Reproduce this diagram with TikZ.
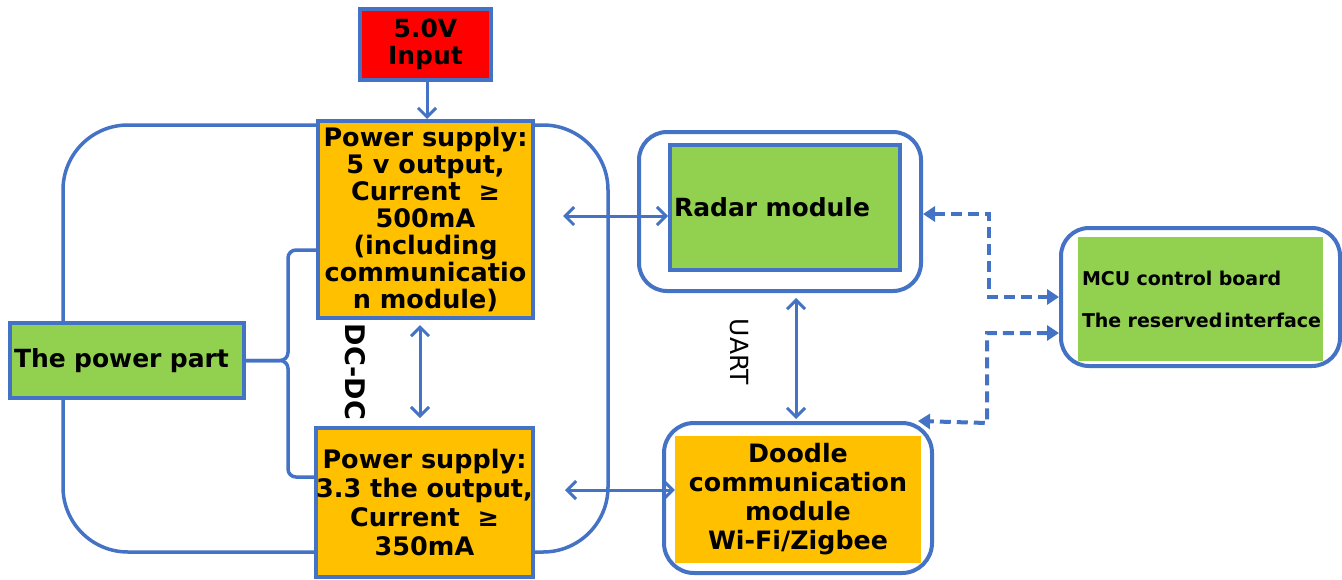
\documentclass[tikz,border=0pt]{standalone}
\usepackage{fontspec}
\setmainfont{DejaVu Sans}
\usetikzlibrary{arrows.meta}
\definecolor{bl}{HTML}{4472C4}
\definecolor{org}{HTML}{FFC000}
\definecolor{grn}{HTML}{92D050}
\definecolor{rd}{HTML}{FF0000}
\begin{document}
\begin{tikzpicture}[x=1pt,y=-1pt,
  box/.style={draw=bl, line width=4pt, inner sep=0pt, align=center},
  frame/.style={draw=bl, line width=4pt, inner sep=0pt},
  barb/.tip={Straight Barb[length=9pt,width=18pt,line width=3pt]},
  tri/.tip={Triangle[length=12pt,width=15pt]},
  arr/.style={draw=bl, line width=3pt, -barb},
  darr/.style={draw=bl, line width=3pt, barb-barb},
  dsh/.style={draw=bl, line width=4pt, dash pattern=on 11pt off 6pt, tri-tri},
  brace/.style={draw=bl, line width=3.5pt, rounded corners=8pt}]
\useasboundingbox (0,0) rectangle (1342,579);

% power enclosure
\node[draw=bl, line width=3.5pt, rounded corners=65pt, minimum width=545pt, minimum height=427pt, inner sep=0pt] (pwr) at (335.5,338.5) {};

% boxes
\node[box, fill=rd, minimum width=131pt, minimum height=71pt, font=\bfseries\fontsize{25}{27}\selectfont] (in) at (425.5,44.5) {5.0V\\Input};
\node[box, fill=org, minimum width=215pt, minimum height=197pt, font=\bfseries\fontsize{25.5}{27}\selectfont] (ps5) at (425.5,219.5)
  {Power supply:\\5 v output,\\Current \ ≥\\500mA\\(including\\communicatio\\n module)};
\node[box, fill=org, minimum width=217pt, minimum height=149pt, font=\bfseries\fontsize{25.5}{29}\selectfont] (ps33) at (424.5,502.5)
  {Power supply:\\3.3 the output,\\Current \ ≥\\350mA};
\node[box, fill=grn, minimum width=234pt, minimum height=75pt, inner xsep=4pt, text width=226pt, align=left, font=\bfseries\fontsize{25}{27}\selectfont] (pp) at (127,360.5) {The power part};

\node[frame, rounded corners=28pt, minimum width=282pt, minimum height=159pt] (radarO) at (780,211.5) {};
\node[box, fill=grn, minimum width=230pt, minimum height=125pt, inner xsep=4pt, text width=222pt, align=left, font=\bfseries\fontsize{25}{27}\selectfont] (radar) at (785,207.5) {Radar module};

\node[frame, rounded corners=30pt, minimum width=268pt, minimum height=150pt] (doodleO) at (798,498) {};
\node[fill=org, inner sep=0pt, minimum width=246pt, minimum height=127pt, align=center, font=\bfseries\fontsize{25.3}{29}\selectfont] (doodle) at (798,499.5)
  {Doodle\\communication\\module\\Wi-Fi/Zigbee};

\node[frame, rounded corners=28pt, minimum width=279pt, minimum height=138pt] (mcuO) at (1200.5,297) {};
\node[fill=grn, inner sep=0pt, inner xsep=4pt, minimum width=245pt, minimum height=124pt, text width=237pt, align=left, font=\bfseries\fontsize{19}{42}\selectfont] (mcu) at (1200.5,299)
  {MCU control board\\\mbox{The reserved\hspace{2pt}interface}};

% labels
\node[rotate=-90, inner sep=0pt, font=\bfseries\fontsize{27}{27}\selectfont] (dcdc) at (355,372) {DC-DC};
\node[rotate=-90, inner sep=0pt, font=\fontsize{25}{25}\selectfont] (uart) at (739,352) {UART};

% brace
\draw[brace] (ps5.west |- 0,250) -- (288,250) -- (288,0 |- pp.east) -- (pp.east);
\draw[brace] (ps33.west |- 0,477) -- (288,477) -- (288,0 |- pp.east) -- (pp.east);

% connectors
\draw[arr] (in.south -| 427,0) -- (ps5.north -| 427,0);
\draw[darr, shorten <=5pt, shorten >=8pt] (ps5.south -| 420,0) -- (ps33.north -| 420,0);
\draw[darr, shorten <=28pt] (ps5.east |- 0,216) -- (radar.west |- 0,216);
\draw[darr, shorten <=30pt] (ps33.east |- 0,490) -- (doodle.west |- 0,490);
\draw[darr, shorten <=5pt, shorten >=2pt] (radarO.south -| 796,0) -- (doodleO.north -| 796,0);

\draw[dsh] (radarO.east |- 0,214) -- (989,214) -- (989,297) -- (mcuO.west |- 0,297);
\draw[dsh] (mcuO.west |- 0,333) -- (987,333) -- (987,423) -- (doodleO.north -| 918,0);
\end{tikzpicture}
\end{document}
